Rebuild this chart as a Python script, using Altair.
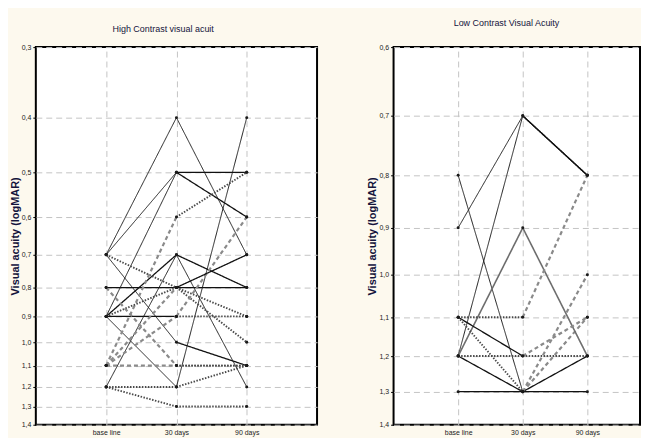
import altair as alt
import pandas as pd

time_labels = ["base line", "30 days", "90 days"]

# High contrast visual acuity: one entry per patient (base line, 30 days, 90 days)
hc_base = [0.7, 0.9, 0.7, 0.8, 0.9, 0.9, 0.7, 1.2, 0.7, 1.1, 1.2, 1.2, 1.1, 0.9, 0.9, 1.1, 1.1, 0.8]
hc_d30 = [0.4, 1.2, 1.0, 0.8, 0.7, 0.5, 0.5, 0.7, 0.8, 0.6, 1.2, 1.3, 1.1, 0.8, 0.9, 0.9, 0.8, 1.1]
hc_d90 = [0.7, 0.4, 1.1, 0.8, 0.8, 0.5, 0.6, 1.2, 0.9, 0.5, 1.1, 1.3, 1.1, 1.0, 0.9, 0.6, 0.7, 1.1]
hc_style_a = ["thin", "thin", "thin", "thick", "thick", "thin", "thin", "thin", "dot",
              "dash", "dot", "dot", "dash", "dot", "thick", "dash", "dash", "dash"]
hc_style_b = ["thin", "thin", "thick", "thick", "thick", "thick", "thick", "thin", "dot",
              "dot", "dot", "dot", "dot", "dot", "dot", "dash", "thick", "dot"]
hc_ticks = [0.3, 0.4, 0.5, 0.6, 0.7, 0.8, 0.9, 1.0, 1.1, 1.2, 1.3, 1.4]

# Low contrast visual acuity
lc_base = [0.8, 0.9, 1.2, 1.2, 1.1, 1.1, 1.2, 1.2, 1.3, 1.1]
lc_d30 = [1.3, 0.7, 0.7, 0.9, 1.1, 1.2, 1.2, 1.3, 1.3, 1.3]
lc_d90 = [1.1, 0.8, 0.8, 1.2, 0.8, 1.1, 1.2, 1.2, 1.3, 1.0]
lc_style_a = ["thin", "thin", "thin", "gray", "dot", "thick", "dot", "thick", "thick", "dot"]
lc_style_b = ["dash", "thick", "thick", "gray", "dash", "dash", "dot", "thick", "thick", "dash"]
lc_ticks = [0.6, 0.7, 0.8, 0.9, 1.0, 1.1, 1.2, 1.3, 1.4]

style_domain = ["thin", "thick", "gray", "dot", "dash"]
style_color = ["#1e1e1e", "#111111", "#6e6e6e", "#4a4a4a", "#8a8a8a"]
style_size = [1.0, 2.2, 1.3, 1.7, 1.0]
style_dash = [[1, 0], [1, 0], [1, 0], [1.5, 1.5], [4, 3]]

FONT = "Liberation Sans Narrow, Liberation Sans, Arial"
NAVY = "#14143c"


def build(base, d30, d90, sa, sb):
    segs, pts = [], []
    for i in range(len(base)):
        vals = [base[i], d30[i], d90[i]]
        styles = [sa[i], sb[i]]
        for k in range(2):
            segs.append({"p": i, "x": k + 1, "x2": k + 2, "y": vals[k], "y2": vals[k + 1],
                         "style": styles[k]})
        for k in range(3):
            pts.append({"p": i, "x": k + 1, "y": vals[k]})
    return pd.DataFrame(segs), pd.DataFrame(pts)


label_expr = ("datum.value == 1 ? '%s' : datum.value == 2 ? '%s' : '%s'" % tuple(time_labels))


def panel(base, d30, d90, sa, sb, ticks, domain, xmax, w, h, title, t_off, t_dx):
    segs, pts = build(base, d30, d90, sa, sb)
    xscale = alt.Scale(domain=[0, xmax], nice=False)
    xenc = alt.X("x:Q", scale=xscale,
                 axis=alt.Axis(values=[1, 2, 3], labelExpr=label_expr, title=None, ticks=False,
                               grid=True, gridDash=[6, 4], gridColor="#c4c4c4", gridWidth=1,
                               domain=False, labelFont=FONT, labelFontSize=7,
                               labelColor="#222", labelPadding=4))
    yscale = alt.Scale(type="log", domain=domain, reverse=True, nice=False)
    yenc = alt.Y("y:Q", scale=yscale,
                 axis=alt.Axis(values=ticks,
                               labelExpr="replace(format(datum.value, '.1f'), '.', ',')",
                               title="Visual acuity (logMAR)", titleFont=FONT, titleFontSize=11,
                               titleFontWeight="bold", titleColor=NAVY, titlePadding=1,
                               grid=True, gridDash=[6, 4], gridColor="#c4c4c4", gridWidth=1,
                               domain=False, tickSize=3, tickColor="#000",
                               labelFont=FONT, labelFontSize=7, labelColor="#222",
                               labelPadding=2))
    sc = alt.Scale(domain=style_domain, range=style_color)
    ss = alt.Scale(domain=style_domain, range=style_size)
    sd = alt.Scale(domain=style_domain, range=style_dash)
    rules = alt.Chart(segs).mark_rule(strokeCap="butt").encode(
        x=xenc, x2="x2:Q", y=yenc, y2="y2:Q",
        color=alt.Color("style:N", scale=sc, legend=None),
        size=alt.Size("style:N", scale=ss, legend=None),
        strokeDash=alt.StrokeDash("style:N", scale=sd, legend=None),
        detail="p:N",
    )
    points = alt.Chart(pts).mark_circle(size=9, opacity=1, color="#1a1a1a").encode(
        x=alt.X("x:Q", scale=xscale), y=alt.Y("y:Q", scale=yscale))
    return alt.layer(rules, points).properties(
        width=w, height=h,
        title=alt.TitleParams(title, font=FONT, fontSize=9, fontWeight="normal", color=NAVY,
                              offset=t_off, anchor="middle", frame="bounds", dx=t_dx),
    )


left = panel(hc_base, hc_d30, hc_d90, hc_style_a, hc_style_b, hc_ticks,
             [0.3, 1.4], 4, 283, 380, "High Contrast visual acuit", 9, 0)
right = panel(lc_base, lc_d30, lc_d90, lc_style_a, lc_style_b, lc_ticks,
              [0.6, 1.4], 3.815, 248, 380, "Low Contrast Visual Acuity", 15, 3)

chart = alt.hconcat(left, right, spacing=48).properties(
    padding={"left": 0, "top": 9, "right": 0, "bottom": 0}
).configure(background="#fdf9ee").configure_view(
    fill="white", stroke="#000", strokeWidth=2
)

chart.save("out.html", embed_options={"renderer": "svg", "actions": False})
